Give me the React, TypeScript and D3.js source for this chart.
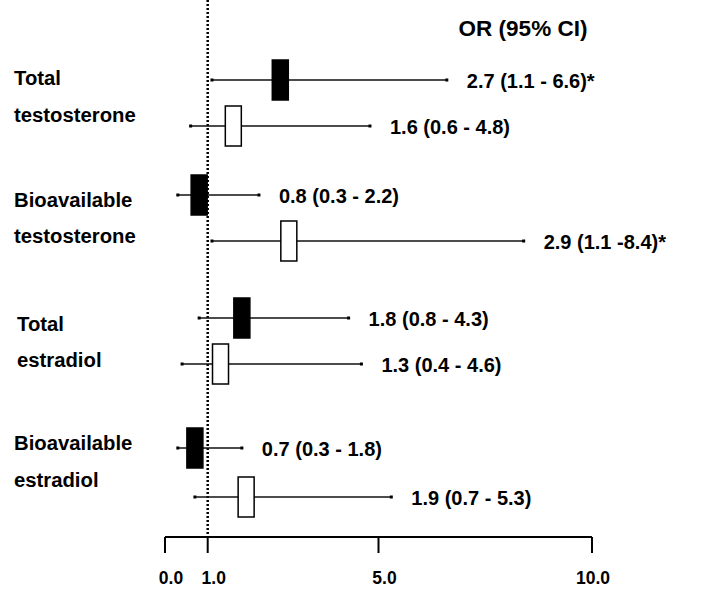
import { scaleLinear } from "d3";

const groups = ["Total testosterone", "Bioavailable testosterone", "Total estradiol", "Bioavailable estradiol"];
const groupLines = [
  ["Total", "testosterone"],
  ["Bioavailable", "testosterone"],
  ["Total", "estradiol"],
  ["Bioavailable", "estradiol"],
];
const orValues = [2.7, 1.6, 0.8, 2.9, 1.8, 1.3, 0.7, 1.9];
const ciLow = [1.1, 0.6, 0.3, 1.1, 0.8, 0.4, 0.3, 0.7];
const ciHigh = [6.6, 4.8, 2.2, 8.4, 4.3, 4.6, 1.8, 5.3];
const filled = [true, false, true, false, true, false, true, false];
const orLabels = [
  "2.7 (1.1 - 6.6)*",
  "1.6 (0.6 - 4.8)",
  "0.8 (0.3 - 2.2)",
  "2.9 (1.1 -8.4)*",
  "1.8 (0.8 - 4.3)",
  "1.3 (0.4 - 4.6)",
  "0.7 (0.3 - 1.8)",
  "1.9 (0.7 - 5.3)",
];
const ticks = [0, 1, 5, 10];
const rowY = [80, 126, 195, 241, 318, 364, 448, 497];
const groupLabelY = [
  [85, 122],
  [207, 243],
  [331, 367],
  [450, 487],
];

const App = () => {
  const width = 711;
  const height = 606;
  const axisY = 537;
  const font = "Arial, 'Liberation Sans', sans-serif";

  const x = scaleLinear().domain([0, 10]).range([165, 592]);
  const boxW = 16;
  const boxH = 40;

  return (
    <svg
      width={width}
      height={height}
      viewBox={`0 0 ${width} ${height}`}
      style={{ position: "absolute", left: 0, top: 0, background: "#fff" }}
    >
      <text x={523} y={36} textAnchor="middle" fontFamily={font} fontWeight="bold" fontSize={22.5}>
        OR (95% CI)
      </text>

      {groups.map((g, i) => (
        <g key={g}>
          {groupLines[i].map((t, j) => (
            <text
              key={t + j}
              x={i === 2 ? 17 : 14}
              y={groupLabelY[i][j]}
              fontFamily={font}
              fontWeight="bold"
              fontSize={20.3}
            >
              {t}
            </text>
          ))}
        </g>
      ))}

      {/* reference line at OR = 1 */}
      <line
        x1={x(1)}
        x2={x(1)}
        y1={0}
        y2={axisY}
        stroke="#000"
        strokeWidth={2.5}
        strokeDasharray="2,2"
      />

      {orValues.map((v, i) => (
        <g key={i}>
          <line x1={x(ciLow[i])} x2={x(ciHigh[i])} y1={rowY[i]} y2={rowY[i]} stroke="#111" strokeWidth={1.3} />
          <rect x={x(ciLow[i]) - 1.5} y={rowY[i] - 1.5} width={3} height={3} fill="#000" />
          <rect x={x(ciHigh[i]) - 1.5} y={rowY[i] - 1.5} width={3} height={3} fill="#000" />
          <rect
            x={x(v) - boxW / 2}
            y={rowY[i] - boxH / 2}
            width={boxW}
            height={boxH}
            fill={filled[i] ? "#000" : "#fff"}
            stroke="#000"
            strokeWidth={1.5}
          />
          <text
            x={x(ciHigh[i]) + 20}
            y={rowY[i] + 8}
            fontFamily={font}
            fontWeight="bold"
            fontSize={20}
          >
            {orLabels[i]}
          </text>
        </g>
      ))}

      {/* axis */}
      <line x1={x(0)} x2={x(10)} y1={axisY} y2={axisY} stroke="#000" strokeWidth={2} />
      {ticks.map((t) => (
        <g key={t}>
          <line x1={x(t)} x2={x(t)} y1={axisY} y2={axisY + 16} stroke="#000" strokeWidth={2} />
          <text
            x={x(t)}
            dx={t === 10 ? 1 : 6}
            y={584}
            textAnchor="middle"
            fontFamily={font}
            fontWeight="bold"
            fontSize={17.5}
          >
            {t.toFixed(1)}
          </text>
        </g>
      ))}
    </svg>
  );
};

export default App;
